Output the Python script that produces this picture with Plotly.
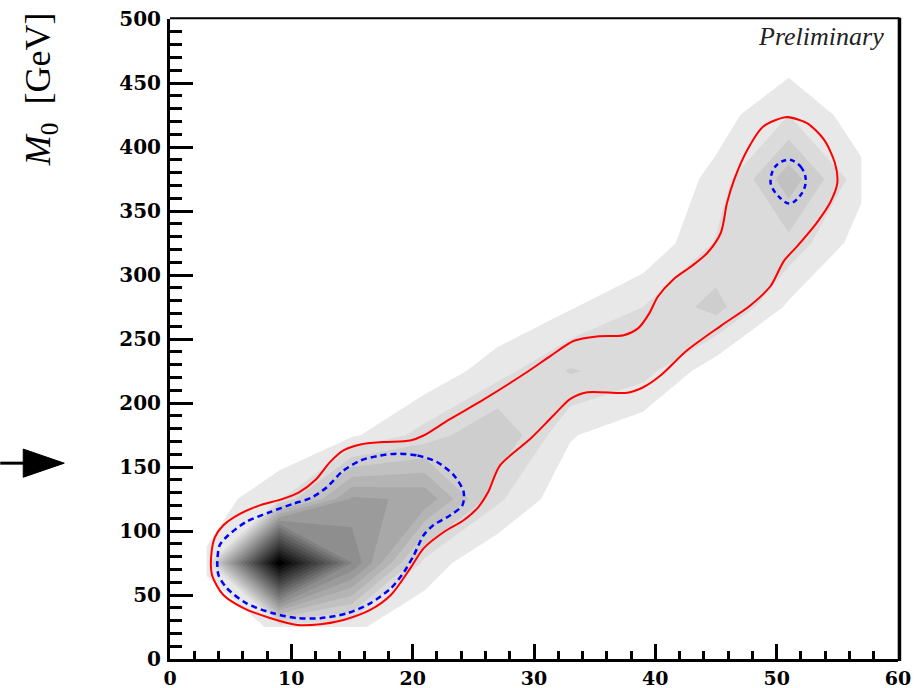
import plotly.graph_objects as go

# ---------------- data ----------------
# grey density map: coarse grid (bin centres)
x_centers = [3, 9, 15, 21, 27, 33, 39, 45, 51, 57]
y_centers = [25, 75, 125, 175, 225, 275, 325, 375, 425, 475]
z_rows = [
    [1, 6, 6, 1, 0, 0, 0, 0, 0, 0],
    [6, 100, 45, 8, 0, 0, 0, 0, 0, 0],
    [2, 9, 36, 34, 11, 1, 0, 0, 0, 0],
    [0, 0, 4, 12, 20, 5.5, 1, 0, 0, 0],
    [0, 0, 0, 1, 8, 15.5, 12, 1.5, 0, 0],
    [0, 0, 0, 0, 0, 4.5, 10, 17, 4, 0],
    [0, 0, 0, 0, 0, 0, 0.5, 10.5, 13.5, 2.3],
    [0, 0, 0, 0, 0, 0, 0, 6.5, 23, 6.6],
    [0, 0, 0, 0, 0, 0, 0, 2.5, 10, 1.9],
    [0, 0, 0, 0, 0, 0, 0, 0, 1.4, 0],
]

# red (solid) contour, starting at its top
red_x = [50.9, 52.5, 53.9, 54.8, 55.0, 54.4, 53.3, 51.7, 50.6, 49.5, 47.8, 45.4, 42.6,
         40.4, 39.0, 37.7, 34.4, 33.0, 31.6, 29.7, 27.2, 26.2, 25.4, 24.2, 22.6, 20.9,
         19.8, 18.2, 16.5, 14.3, 12.4, 10.5, 8.3, 6.1, 4.4, 3.46, 3.4, 3.7, 4.4, 5.8,
         7.4, 9.1, 10.6, 12.0, 13.2, 14.3, 15.7, 17.6, 19.8, 20.9, 23.0, 25.9, 29.4,
         31.4, 33.3, 35.2, 37.4, 38.6, 39.5, 40.2, 41.5, 43.0, 44.3, 45.4, 45.9, 46.5,
         47.6, 48.9, 50.9, 52.5]
red_y = [423.4, 418.7, 405.7, 387.5, 372, 356.4, 340.8, 322.6, 311, 291.4, 276, 260.3, 241,
         221.3, 212.3, 208, 208.4, 203.2, 190.2, 172, 151.2, 130, 118.5, 108.4, 99.4, 86.4,
         70.8, 50, 38.3, 30.5, 27.2, 26.6, 31.9, 39.6, 50, 65.6, 81, 95, 104.5, 113.6,
         120, 124.5, 130, 140, 154, 163, 167.6, 169.5, 170.7, 174.6, 187, 203, 224,
         237, 248.6, 252, 253, 258.5, 270, 283, 296.7, 307, 317.4, 333, 356, 374.5,
         398, 416, 423.4, 418.7]

# blue (dashed) contours, starting at the top
blue_x = [18.7, 20.4, 22.0, 23.4, 24.2, 24.1, 23.1, 21.7, 20.9, 20.1, 19.3, 18.2, 16.5,
          14.6, 12.4, 10.5, 8.5, 6.3, 4.7, 4.0, 3.9, 4.1, 4.8, 6.3, 8.3, 10.2, 11.6, 12.9,
          14.2, 15.7, 17.1, 18.7]
blue_y = [160.4, 159, 153.9, 143.5, 130.5, 120.1, 112.3, 104.5, 96.7, 81.2, 68.2, 55.2,
          43.5, 35.7, 31.9, 31.9, 35.7, 43.5, 55.2, 65.6, 76, 89, 96.7, 107.2, 115, 121.4,
          125.8, 134, 146.5, 155.1, 158.6, 160.4]
blue2_x = [51.0, 52.0, 52.4, 52.1, 51.1, 50.2, 49.5, 49.9, 51.0]
blue2_y = [390.1, 384.4, 374.5, 364.2, 355.8, 361, 372, 384.9, 390.1]

arrow_y = 153          # value marked by the arrow on the left
x_range = [0, 60]
y_range = [0, 500]

# ---------------- figure ----------------
grey_scale = [[0.0, "#ffffff"], [0.05, "#e8e8e8"], [0.95, "#000000"], [1.0, "#000000"]]

fig = go.Figure()
fig.add_trace(go.Contour(
    x=x_centers, y=y_centers, z=z_rows,
    autocontour=False,
    contours=dict(start=5, end=100, size=5, coloring="fill", showlines=False),
    colorscale=grey_scale, showscale=False, line=dict(width=0, smoothing=0),
    hoverinfo="skip",
))
fig.add_trace(go.Scatter(x=red_x, y=red_y, mode="lines",
                         line=dict(color="#ff0000", width=2, shape="spline", smoothing=0.8),
                         hoverinfo="skip"))
fig.add_trace(go.Scatter(x=blue_x, y=blue_y, mode="lines",
                         line=dict(color="#0000ff", width=2.5, dash="6px,4px",
                                   shape="spline", smoothing=0.8),
                         hoverinfo="skip"))
fig.add_trace(go.Scatter(x=blue2_x, y=blue2_y, mode="lines",
                         line=dict(color="#0000ff", width=2.5, dash="5px,4px",
                                   shape="spline", smoothing=1.0),
                         hoverinfo="skip"))

yfont = dict(family="DejaVu Serif", size=20, color="black", weight="bold")
xfont = dict(family="DejaVu Serif", size=19, color="black", weight="bold")
fig.update_xaxes(range=x_range, dtick=10, tick0=0, ticks="inside", ticklen=15, tickwidth=3,
                 tickcolor="black", showline=True, linewidth=3, linecolor="black",
                 mirror=False, showgrid=False, zeroline=False, tickfont=xfont,
                 ticklabelstandoff=0, automargin=False,
                 minor=dict(dtick=2, ticks="inside", ticklen=8, tickwidth=2.5,
                            tickcolor="black", showgrid=False))
fig.update_yaxes(range=y_range, dtick=50, tick0=0, ticks="inside", ticklen=23, tickwidth=3,
                 tickcolor="black", showline=True, linewidth=3, linecolor="black",
                 mirror=False, showgrid=False, zeroline=False, tickfont=yfont,
                 ticklabelstandoff=2, automargin=False,
                 minor=dict(dtick=10, ticks="inside", ticklen=12, tickwidth=2.5,
                            tickcolor="black", showgrid=False))

# frame: thinner top edge, thicker right edge
fig.add_shape(type="line", xref="paper", yref="paper", x0=0, x1=1.002, y0=1.001, y1=1.001,
              line=dict(color="black", width=2))
fig.add_shape(type="line", xref="paper", yref="paper", x0=1.002, x1=1.002, y0=-0.003, y1=1.002,
              line=dict(color="black", width=3.5))

# arrow on the left
fig.add_shape(type="line", xref="paper", yref="y", x0=-0.2332, x1=-0.195,
              y0=arrow_y, y1=arrow_y, line=dict(color="black", width=3))
fig.add_shape(type="path", xref="paper", yref="y",
              path=f"M -0.2016 {arrow_y - 11} L -0.1452 {arrow_y} L -0.2016 {arrow_y + 11} Z",
              fillcolor="black", line=dict(color="black", width=1))

fig.add_annotation(text="<i>M</i><sub>0</sub>&nbsp;&nbsp;[GeV]", xref="paper", yref="paper",
                   x=-0.1768, y=0.8908, xanchor="center", yanchor="middle",
                   textangle=-90, showarrow=False,
                   font=dict(family="Liberation Serif", size=36, color="black"))
fig.add_annotation(text="<i>Preliminary</i>", xref="paper", yref="paper",
                   x=0.984, y=0.972, xanchor="right", yanchor="middle", showarrow=False,
                   font=dict(family="Liberation Serif", size=26, color="#222222"))

fig.update_layout(width=919, height=688, margin=dict(l=170, r=21, t=19, b=29),
                  plot_bgcolor="white", paper_bgcolor="white", showlegend=False)

fig.write_html("out.html")
